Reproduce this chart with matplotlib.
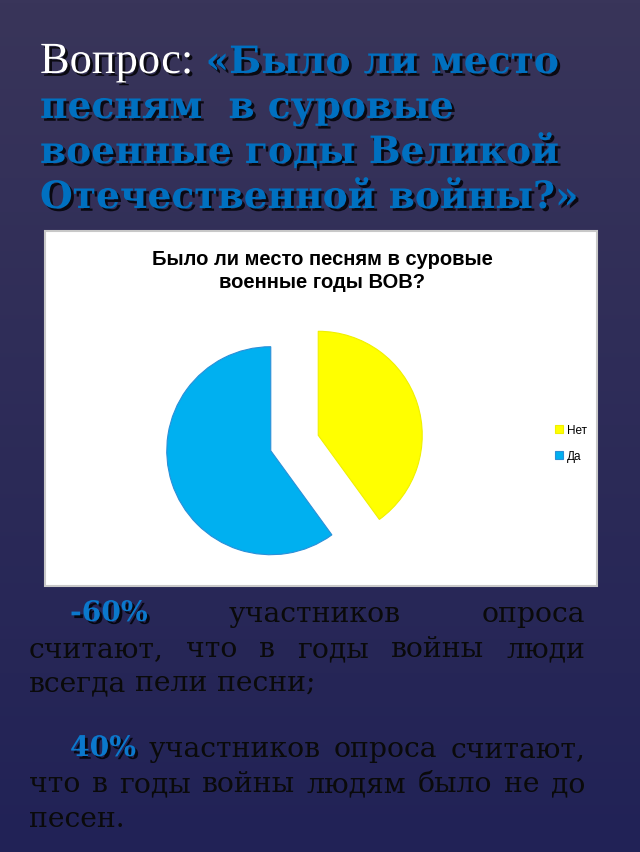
import numpy as np
import matplotlib.pyplot as plt
import matplotlib.patheffects as pe
from matplotlib.patches import Rectangle

# данные диаграммы
labels = ['Нет', 'Да']
shares = [40, 60]
slice_colors = ['#ffff00', '#00b0f0']
slice_edges = ['#f0f000', '#2a8fd8']

chart_title = 'Было ли место песням в суровые\nвоенные годы ВОВ?'
question_head = 'Вопрос:'
question_lines = ['«Было ли место', 'песням  в суровые', 'военные годы Великой',
                  'Отечественной войны?»']

W, H = 640, 853
fig = plt.figure(figsize=(W / 100, H / 100), dpi=100)
bg = fig.add_axes([0, 0, 1, 1])
bg.set_xlim(0, W)
bg.set_ylim(H, 0)
bg.axis('off')

# фон слайда
top = np.array([57, 53, 90]) / 255
bottom = np.array([33, 34, 86]) / 255
t = np.linspace(0, 1, 200)[:, None, None]
bg.imshow(top * (1 - t) + bottom * t, extent=[0, W, H, 0], aspect='auto', zorder=0)

renderer = fig.canvas.get_renderer()


def text_width(s, **kw):
    tt = bg.text(0, 0, s, **kw)
    w = tt.get_window_extent(renderer).width
    tt.remove()
    return w


shadow = [pe.SimplePatchShadow(offset=(2, -2), shadow_rgbFace='black', alpha=0.8), pe.Normal()]
blue = '#0070c0'

# заголовок слайда
head_kw = dict(family='Liberation Serif', fontsize=32)
blue_kw = dict(family='DejaVu Serif', fontsize=10, weight='bold', color=blue)
blue_kw['fontsize'] = 10 * 538 / text_width(question_lines[3], **blue_kw)
bg.text(40, 74, question_head, color='white', path_effects=shadow, **head_kw)
x_blue = 40 + text_width(question_head, **head_kw) + 12
bg.text(x_blue, 74, question_lines[0], path_effects=shadow, **blue_kw)
for i, line in enumerate(question_lines[1:]):
    bg.text(40, 119 + 45 * i, line, path_effects=shadow, **blue_kw)

# рамка диаграммы
bg.add_patch(Rectangle((45, 232), 552, 355, facecolor='white', edgecolor='#c8c8c8', lw=1.5, zorder=1))
bg.text(322, 271, chart_title, ha='center', va='center', fontsize=14.5, weight='bold',
        family='Liberation Sans', linespacing=1.25, zorder=2)

# круговая диаграмма
r_px = 104
cx, cy = 294.5, 444
half = 1.4 * r_px
ax = fig.add_axes([(cx - half) / W, 1 - (cy + half) / H, 2 * half / W, 2 * half / H])
wedges, _ = ax.pie(shares, colors=slice_colors, startangle=90, counterclock=False,
                   explode=[0.24, 0.24], wedgeprops=dict(linewidth=0.8))
for w, ec in zip(wedges, slice_edges):
    w.set_edgecolor(ec)
ax.set_xlim(-1.4, 1.4)
ax.set_ylim(-1.4, 1.4)
ax.set_aspect('equal')
ax.axis('off')

fig.legend(wedges, labels, loc='center left', bbox_to_anchor=(549 / W, 1 - 444 / H),
           frameon=False, prop=dict(family='Liberation Sans', size=8.5),
           handlelength=0.65, handleheight=0.65, handletextpad=0.35, labelspacing=1.2, borderpad=0)

# текст под диаграммой
body_kw = dict(family='DejaVu Serif', fontsize=20.3, color='#0a0a0a')
num_kw = dict(family='DejaVu Serif', fontsize=20.3, weight='bold', color='#0b78cc')


def put_line(y, x0, x1, words, justify=True):
    widths = [text_width(s, **kw) for s, kw in words]
    if justify and len(words) > 1:
        gap = (x1 - x0 - sum(widths)) / (len(words) - 1)
    else:
        gap = text_width('a a', **body_kw) - text_width('aa', **body_kw)
    x = x0
    for (s, kw), w in zip(words, widths):
        extra = shadow if kw is num_kw else None
        bg.text(x, y, s, path_effects=extra, **kw)
        x += w + gap


put_line(622, 70, 585, [('-60%', num_kw), ('участников', body_kw), ('опроса', body_kw)])
put_line(657, 29, 585, [(s, body_kw) for s in 'считают, что в годы войны люди'.split()])
put_line(691, 29, 585, [(s, body_kw) for s in 'всегда пели песни;'.split()], justify=False)
put_line(757, 70, 585, [('40%', num_kw)] + [(s, body_kw) for s in 'участников опроса считают,'.split()])
put_line(792, 29, 585, [(s, body_kw) for s in 'что в годы войны людям было не до'.split()])
put_line(827, 29, 585, [('песен.', body_kw)], justify=False)

fig.savefig('out.png', dpi=100)
